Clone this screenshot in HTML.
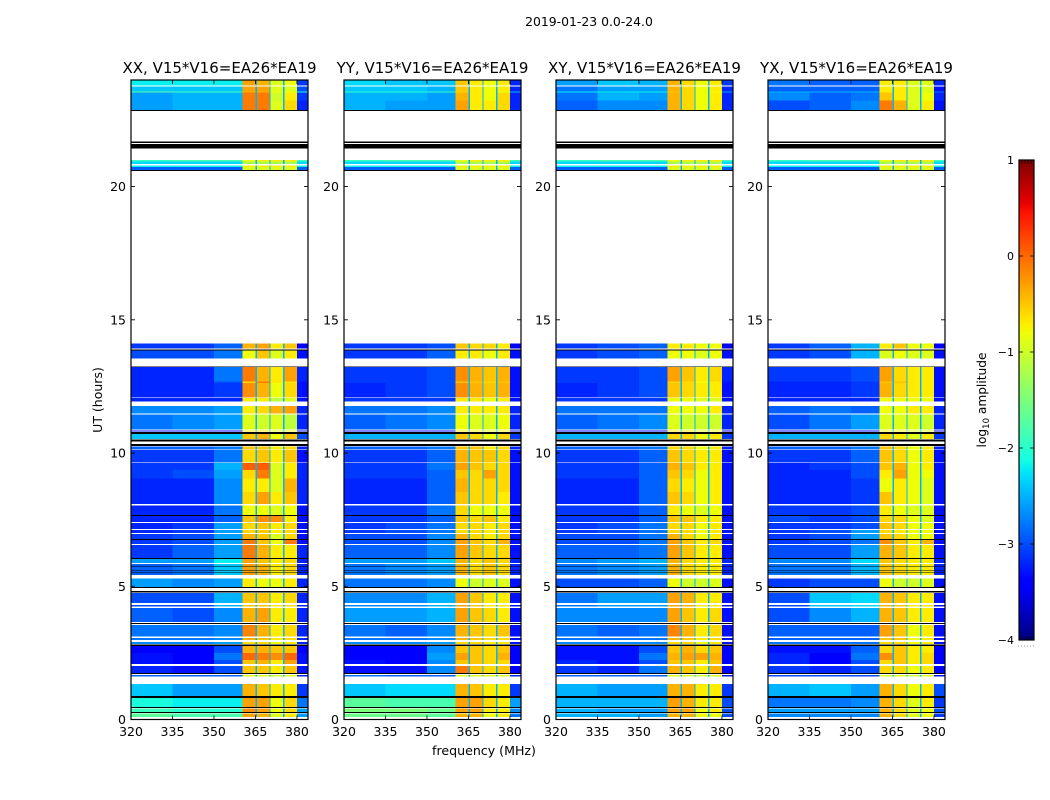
<!DOCTYPE html>
<html lang="en">
<head>
<meta charset="utf-8">
<title>2019-01-23 0.0-24.0</title>
<style>
html,body{margin:0;padding:0;background:#fff;width:1050px;height:800px;overflow:hidden}
svg{display:block}
text{font-family:"DejaVu Sans","Liberation Sans",sans-serif;fill:#000}
</style>
</head>
<body>
<svg id="fig" xmlns="http://www.w3.org/2000/svg" width="1050" height="800" viewBox="0 0 1050 800">
<rect x="0" y="0" width="1050" height="800" fill="#fff"/>
<text x="589" y="26" font-size="12.4" text-anchor="middle">2019-01-23 0.0-24.0</text>
<text transform="translate(102,400) rotate(-90)" font-size="12.5" text-anchor="middle">UT (hours)</text>
<text x="484" y="755" font-size="12.6" text-anchor="middle">frequency (MHz)</text>
<text transform="translate(986,400) rotate(-90)" font-size="12.2" text-anchor="middle">log<tspan font-size="8.5" dy="3">10</tspan><tspan dy="-3"> amplitude</tspan></text>
</svg>
<script>
const panelTitles = ["XX, V15*V16=EA26*EA19","YY, V15*V16=EA26*EA19","XY, V15*V16=EA26*EA19","YX, V15*V16=EA26*EA19"];
const freqTicks = [320,335,350,365,380];
const hourTicks = [0,5,10,15,20];
const colorTicks = [1,0,-1,-2,-3,-4];
const colorTickLabels = ["1","0","\u22121","\u22122","\u22123","\u22124"];
const gapLevel = -25;
const backgroundShift = -2;
const rowTops = [24.00,23.75,23.57,23.53,23.23,21.00,20.94,20.80,20.73,14.12,13.85,13.24,12.69,12.62,12.06,11.77,11.44,10.85,10.71,10.24,10.11,9.62,9.36,9.05,8.53,8.04,7.63,7.37,7.11,6.96,6.73,6.54,6.02,5.83,5.29,4.74,4.29,4.18,3.54,3.06,2.91,2.76,2.50,2.23,2.01,1.67,1.33,0.81,0.41,0.22];
const rowBottoms = [23.79,23.57,23.53,23.23,22.85,20.94,20.85,20.73,20.62,13.93,13.54,12.69,12.62,12.09,11.94,11.49,10.89,10.80,10.52,10.14,9.64,9.36,9.05,8.53,8.08,7.67,7.41,7.14,6.99,6.77,6.58,6.07,5.87,5.42,4.97,4.37,4.24,3.66,3.11,2.98,2.83,2.50,2.23,2.08,1.74,1.61,0.88,0.47,0.28,0.09];
const blackTops = [22.87,21.69,21.60,20.62,13.89,13.25,10.79,10.51,10.33,7.67,6.77,6.06,5.77,5.62,5.52,4.97,4.82,3.62,2.81,1.74,0.88,0.47,0.28];
const blackBottoms = [22.83,21.64,21.43,20.58,13.85,13.22,10.71,10.44,10.26,7.63,6.73,6.02,5.74,5.59,5.49,4.93,4.76,3.58,2.76,1.71,0.81,0.44,0.24];
/* levels in tenths of log10 amplitude; each row: below 335, 335-350, 350-360, above 380, then the four bright sub-bands */
const sharedRows = [[-17,-16,-16,-17,-8,-7,-7,-7],[-21,-21,-21,-21,-12,-12,-12,-12],[-20,-20,-20,-20,-7,-7,-7,-7],[-27,-27,-27,-27,-9,-9,-9,-9]];
const sharedRowStart = 5;
const xxLevels = [[-20,-20,-20,-29,-3,-4,-9,-8],[-22,-22,-22,-28,-3,-3,-9,-9],[-15,-16,-16,-19,-4,-4,-8,-8],[-24,-23,-23,-29,-1,-1,-10,-7],[-24,-23,-23,-30,-1,-1,-9,-6],[-29,-29,-27,-32,-4,-3,-7,-5],[-28,-28,-26,-31,-8,-5,-9,-7],[-30,-30,-26,-30,-1,-4,-7,-3],[-30,-30,-28,-31,-6,-1,-7,-7],[-30,-30,-29,-31,-2,-4,-8,-6],[-30,-30,-30,-31,-7,-7,-11,-9],[-25,-25,-24,-30,-7,-6,-4,-3],[-26,-25,-24,-30,-9,-10,-9,-11],[-31,-31,-31,-32,-7,-7,-9,-8],[-22,-22,-22,-28,-5,-4,-8,-5],[-27,-27,-26,-30,-5,-5,-7,-6],[-29,-29,-26,-31,-6,-5,-7,-5],[-29,-29,-23,-30,0.5,0.5,-9,-7],[-29,-28,-24,-30,-6,-1,-9,-7],[-30,-30,-25,-30,-7,-7,-9,-4],[-30,-30,-25,-30,-6,-3,-7,-5],[-30,-30,-26,-31,-8,-8,-9,-8],[-30,-30,-27,-31,-5,-2,-2,-7],[-30,-29,-24,-31,-6,-5,-7,-6],[-30,-29,-24,-31,-6,-5,-7,-6],[-29,-28,-24,-31,-4,-5,-9,-6],[-29,-28,-24,-31,-1,-5,-8,-1],[-29,-27,-24,-30,-1,-4,-7,-7],[-24,-24,-20,-30,-3,-5,-7,-6],[-27,-26,-22,-30,-3,-4,-7,-6],[-24,-25,-24,-30,-7,-8,-8,-7],[-28,-28,-23,-30,-5,-5,-7,-6],[-28,-28,-23,-30,-5,-5,-7,-6],[-27,-28,-25,-30,-4,-3,-7,-7],[-26,-26,-25,-30,-1.5,-4,-7,-6],[-26,-26,-25,-30,-4,-5,-7,-6],[-25,-25,-24,-30,-6,-6,-8,-7],[-32,-32,-28,-32,-4,-4,-5,-5],[-31,-32,-26,-31,0,-1,-2,0],[-31,-32,-28,-31,-5,-4,-7,-3],[-30,-31,-28,-31,-5,-5,-7,-5],[-27,-27,-27,-30,-9,-9,-10,-9],[-22,-24,-24,-29,-4,-5,-7,-7],[-19,-20,-20,-26,-3,-3,-8,-6],[-17,-18,-18,-24,-2,-3,-8,-6],[-15,-16,-16,-24,-3,-4,-9,-7]];
const yyLevels = [[-21,-22,-22,-30,-5,-7,-8,-7],[-22,-22,-23,-30,-5,-7,-8,-7],[-18,-18,-18,-23,-6,-7,-8,-8],[-23,-23,-24,-30,-4,-7,-8,-6],[-23,-24,-24,-30,-3,-7,-7,-6],[-29,-29,-28,-32,-5,-6,-6,-7],[-29,-29,-27,-31,-7,-7,-8,-7],[-29,-29,-28,-31,-2,-4,-5,-4],[-29,-29,-28,-31,-5,-5,-6,-5],[-30,-29,-28,-31,-2,-4,-5,-4],[-29,-29,-29,-31,-7,-7,-8,-7],[-26,-26,-25,-30,-7,-7,-7,-7],[-27,-26,-25,-30,-8,-9,-9,-8],[-31,-31,-31,-32,-7,-7,-9,-8],[-23,-23,-23,-29,-5,-6,-8,-6],[-27,-27,-26,-30,-5,-5,-7,-6],[-29,-29,-27,-31,-4,-5,-5,-6],[-29,-29,-26,-31,-3,-5,-6,-6],[-29,-29,-27,-31,-5,-6,-3,-6],[-30,-30,-27,-31,-4,-6,-6,-6],[-30,-30,-27,-31,-5,-6,-6,-7],[-29,-29,-26,-31,-6,-8,-8,-8],[-29,-29,-27,-31,-5,-6,-5,-7],[-29,-28,-26,-31,-6,-6,-7,-6],[-29,-28,-26,-31,-6,-6,-7,-6],[-28,-28,-25,-31,-4,-6,-7,-6],[-28,-28,-25,-31,-3,-5,-6,-4],[-27,-27,-25,-31,-3,-5,-6,-6],[-24,-24,-22,-30,-4,-6,-5,-6],[-26,-25,-24,-30,-4,-6,-5,-6],[-26,-26,-25,-31,-8,-10,-9,-9],[-25,-25,-23,-31,-3,-5,-7,-7],[-25,-25,-23,-31,-3,-5,-7,-7],[-24,-24,-23,-31,-3,-5,-6,-7],[-26,-27,-25,-31,-4,-5,-6,-5],[-26,-26,-25,-31,-4,-5,-6,-6],[-25,-25,-24,-31,-6,-6,-7,-7],[-32,-32,-25,-32,-5,-5,-6,-5],[-32,-32,-24,-32,-3,-5,-6,-4],[-31,-32,-25,-32,-5,-5,-6,-6],[-31,-31,-25,-32,-1,-5,-6,-5],[-26,-27,-27,-30,-9,-9,-9,-9],[-22,-21,-21,-29,-4,-5,-7,-7],[-15,-16,-16,-24,-3,-3,-6,-7],[-13,-13,-14,-25,-3,-3,-7,-7],[-14,-14,-15,-26,-4,-4,-8,-7]];
const xyLevels = [[-24,-22,-23,-29,-4,-6,-8,-7],[-26,-24,-24,-30,-4,-6,-8,-7],[-20,-20,-20,-24,-5,-6,-8,-8],[-26,-23,-24,-30,-4,-6,-8,-7],[-27,-25,-25,-30,-4,-6,-8,-7],[-29,-28,-27,-32,-7,-7,-8,-8],[-29,-28,-27,-31,-8,-8,-9,-8],[-29,-29,-28,-30,-3,-5,-7,-6],[-29,-29,-28,-31,-6,-6,-8,-7],[-30,-29,-28,-31,-5,-6,-7,-7],[-29,-29,-29,-31,-8,-8,-9,-9],[-26,-26,-26,-30,-8,-8,-8,-7],[-27,-26,-25,-30,-9,-10,-10,-10],[-31,-31,-31,-32,-7,-7,-9,-8],[-23,-23,-23,-29,-6,-6,-8,-7],[-27,-27,-26,-30,-6,-6,-8,-7],[-29,-29,-27,-31,-5,-6,-7,-7],[-29,-29,-27,-31,-4,-5,-7,-7],[-29,-29,-27,-31,-5,-6,-8,-7],[-30,-30,-27,-31,-6,-7,-8,-7],[-30,-30,-27,-31,-5,-6,-8,-7],[-29,-29,-27,-31,-7,-8,-9,-8],[-29,-29,-27,-31,-5,-5,-7,-7],[-29,-28,-26,-31,-6,-6,-8,-7],[-29,-28,-26,-31,-6,-6,-8,-7],[-28,-28,-26,-31,-4,-6,-8,-7],[-28,-28,-26,-31,-3,-5,-7,-6],[-27,-27,-26,-31,-3,-5,-7,-7],[-25,-24,-23,-30,-4,-6,-7,-7],[-26,-25,-24,-30,-4,-6,-7,-7],[-28,-28,-27,-31,-8,-10,-10,-9],[-26,-24,-24,-31,-3,-4,-7,-7],[-26,-24,-24,-31,-3,-4,-7,-7],[-25,-25,-25,-31,-3,-5,-7,-6],[-26,-27,-26,-31,-1.5,-4,-7,-6],[-26,-26,-26,-31,-4,-5,-7,-6],[-25,-25,-25,-31,-6,-6,-8,-7],[-31,-31,-28,-32,-5,-4,-6,-5],[-31,-31,-26,-32,-4,-3,-3,-4],[-30,-31,-28,-32,-5,-5,-7,-5],[-29,-30,-26,-32,-4,-5,-7,-4],[-27,-27,-27,-31,-9,-9,-10,-9],[-23,-24,-24,-29,-4,-4,-7,-7],[-23,-23,-23,-28,-3,-4,-7,-7],[-23,-24,-24,-28,-3,-3,-8,-7],[-23,-23,-24,-28,-4,-4,-8,-8]];
const yxLevels = [[-26,-27,-27,-30,-7,-7,-9,-9],[-27,-27,-27,-31,-7,-7,-9,-9],[-23,-23,-23,-26,-7,-7,-9,-9],[-25,-27,-26,-30,-5,-7,-9,-8],[-28,-27,-25,-31,-1,-4,-9,-7],[-29,-27,-23,-32,-7,-5,-8,-8],[-29,-28,-23,-31,-9,-8,-9,-9],[-29,-29,-28,-31,-3,-6,-7,-7],[-30,-30,-29,-31,-5,-5,-7,-7],[-30,-30,-29,-31,-4,-6,-7,-7],[-30,-30,-30,-31,-8,-8,-8,-8],[-27,-26,-27,-30,-8,-8,-7,-7],[-28,-26,-24,-30,-9,-9,-9,-10],[-31,-31,-31,-32,-8,-8,-9,-9],[-23,-23,-23,-29,-6,-7,-9,-7],[-27,-27,-26,-30,-5,-6,-8,-7],[-29,-29,-27,-31,-5,-6,-8,-7],[-30,-29,-28,-31,-5,-4,-8,-7],[-30,-30,-28,-31,-7,-3,-8,-8],[-30,-30,-29,-31,-8,-7,-8,-9],[-30,-30,-29,-31,-5,-7,-8,-9],[-29,-29,-28,-31,-7,-8,-9,-9],[-28,-29,-28,-31,-6,-6,-8,-9],[-29,-29,-28,-31,-5,-6,-8,-8],[-29,-28,-24,-31,-6,-7,-8,-8],[-29,-28,-24,-31,-5,-6,-8,-8],[-29,-28,-26,-31,-2,-5,-7,-4],[-28,-28,-24,-31,-4,-5,-7,-7],[-25,-25,-21,-30,-5,-6,-7,-7],[-26,-26,-23,-30,-5,-6,-7,-7],[-29,-28,-28,-31,-8,-10,-10,-9],[-28,-22,-21,-31,-4,-5,-7,-7],[-28,-22,-21,-31,-4,-5,-7,-7],[-28,-25,-23,-31,-4,-5,-7,-7],[-27,-27,-27,-31,-3,-5,-8,-7],[-27,-27,-27,-31,-5,-5,-8,-7],[-26,-26,-26,-31,-6,-6,-8,-7],[-31,-31,-27,-32,-6,-5,-7,-7],[-30,-32,-26,-32,-2,-5,-7,-6],[-30,-32,-28,-32,-6,-5,-7,-6],[-29,-30,-28,-32,-6,-6,-8,-7],[-28,-28,-28,-31,-9,-9,-10,-9],[-23,-22,-24,-28,-4,-6,-8,-7],[-26,-26,-25,-29,-4,-6,-9,-7],[-24,-24,-24,-28,-4,-6,-9,-8],[-25,-25,-25,-29,-4,-6,-9,-8]];
const panelLevels = [xxLevels,yyLevels,xyLevels,yxLevels];
const panelKeys = ["xx","yy","xy","yx"];

const NS = "http://www.w3.org/2000/svg";
const fig = document.getElementById("fig");
const panelLefts = [131,344,556,768];
const panelWidth = 177, plotTop = 80, plotBottom = 719.5;
const fMin = 320, fMax = 384, hMin = 0, hMax = 24;
const vMin = -4, vMax = 1;
const cbLeft = 1019, cbRight = 1034, cbTop = 160, cbBottom = 640;
/* column edges in MHz: start, end, index into row (-1 marks the gaps between sub-bands) */
const columns = [[320,335,0],[335,350,1],[350,360.4,2],[360.4,365,4],[365,365.5,-1],[365.5,370,5],[370,370.5,-1],[370.5,375,6],[375,375.5,-1],[375.5,380,7],[380,384,3]];

function make(tag, attrs, parent) {
  const el = document.createElementNS(NS, tag);
  for (const k in attrs) el.setAttribute(k, attrs[k]);
  parent.appendChild(el);
  return el;
}
function xScale(left, f) { return left + (f - fMin) / (fMax - fMin) * panelWidth; }
function yScale(h) { return plotBottom - (h - hMin) / (hMax - hMin) * (plotBottom - plotTop); }
function cbScale(v) { return cbBottom - (v - vMin) / (vMax - vMin) * (cbBottom - cbTop); }
function ramp(t, pts) {
  for (let i = 1; i < pts.length; i++) {
    if (t <= pts[i][0]) {
      const a = pts[i-1], b = pts[i];
      return a[1] + (b[1]-a[1]) * (t-a[0]) / (b[0]-a[0]);
    }
  }
  return pts[pts.length-1][1];
}
function jet(v) {
  const t = Math.min(1, Math.max(0, (v - vMin) / (vMax - vMin)));
  const r = ramp(t, [[0,0],[0.35,0],[0.66,1],[0.89,1],[1,0.5]]);
  const g = ramp(t, [[0,0],[0.125,0],[0.375,1],[0.64,1],[0.91,0],[1,0]]);
  const b = ramp(t, [[0,0.5],[0.11,1],[0.34,1],[0.65,0],[1,0]]);
  return "rgb(" + Math.round(r*255) + "," + Math.round(g*255) + "," + Math.round(b*255) + ")";
}

panelLevels.forEach(function (base, p) {
  const left = panelLefts[p];
  const group = make("g", {}, fig);
  
  
  const levels = base.slice(0, sharedRowStart).concat(sharedRows, base.slice(sharedRowStart));

  levels.forEach(function (row, r) {
    const y0 = yScale(rowTops[r]), y1 = yScale(rowBottoms[r]);
    columns.forEach(function (col) {
      let tenths = gapLevel;
      if (col[2] >= 4) tenths = row[col[2]];
      else if (col[2] >= 0) tenths = row[col[2]] + backgroundShift;
      const x0 = xScale(left, col[0]), x1 = xScale(left, col[1]);
      const cell = make("rect", {x:x0, y:y0, width:x1-x0, height:y1-y0, fill:jet(tenths/10), "shape-rendering":"crispEdges"}, group);
      
      
    });
  });

  blackTops.forEach(function (top, i) {
    const y0 = yScale(top), y1 = yScale(blackBottoms[i]);
    const band = make("rect", {x:left, y:y0, width:panelWidth, height:y1-y0, fill:"#000", "shape-rendering":"crispEdges"}, group);
    
    
  });

  const frame = make("rect", {x:left, y:plotTop, width:panelWidth, height:plotBottom-plotTop, fill:"none", stroke:"#000", "stroke-width":1.2}, group);
  
  

  const title = make("text", {x:left+panelWidth/2, y:73, "font-size":15, "text-anchor":"middle"}, group);
  title.textContent = panelTitles[p];
  
  

  freqTicks.forEach(function (f) {
    const x = xScale(left, f);
    const tick = make("path", {d:"M"+x+" "+plotBottom+"v-4M"+x+" "+plotTop+"v4", stroke:"#000", "stroke-width":0.8, fill:"none"}, group);
    
    
    const label = make("text", {x:x, y:736, "font-size":12.5, "text-anchor":"middle"}, group);
    label.textContent = f;
    
    
  });

  hourTicks.forEach(function (h) {
    const y = yScale(h);
    const tick = make("path", {d:"M"+left+" "+y+"h4M"+(left+panelWidth)+" "+y+"h-4", stroke:"#000", "stroke-width":0.8, fill:"none"}, group);
    
    
    const label = make("text", {x:left-5, y:y+4.5, "font-size":12.5, "text-anchor":"end"}, group);
    label.textContent = h;
    
    
  });
});

const cbGroup = make("g", {}, fig);


for (let py = cbTop; py < cbBottom; py += 2) {
  const v = vMax - (py + 1 - cbTop) / (cbBottom - cbTop) * (vMax - vMin);
  const strip = make("rect", {x:cbLeft, y:py, width:cbRight-cbLeft, height:2, fill:jet(v), "shape-rendering":"crispEdges"}, cbGroup);
  
  
}
const cbFrame = make("rect", {x:cbLeft, y:cbTop, width:cbRight-cbLeft, height:cbBottom-cbTop, fill:"none", stroke:"#000", "stroke-width":1.2}, cbGroup);


colorTicks.forEach(function (v, i) {
  const y = cbScale(v);
  const tick = make("path", {d:"M"+cbLeft+" "+y+"h4M"+cbRight+" "+y+"h-4", stroke:"#000", "stroke-width":0.8, fill:"none"}, cbGroup);
  
  
  const label = make("text", {x:1014, y:y+4, "font-size":11, "text-anchor":"end"}, cbGroup);
  label.textContent = colorTickLabels[i];
  
  
});
const minorTicks = make("path", {d:"M1022 160v4M1025 160v4M1028 160v4M1031 160v4M1022 640v-4M1025 640v-4M1028 640v-4M1031 640v-4", stroke:"#000", "stroke-width":0.7, fill:"none"}, cbGroup);


const dots = make("line", {x1:1018, x2:1034, y1:646, y2:646, stroke:"#999", "stroke-width":1, "stroke-dasharray":"1 2"}, cbGroup);


</script>
</body>
</html>
